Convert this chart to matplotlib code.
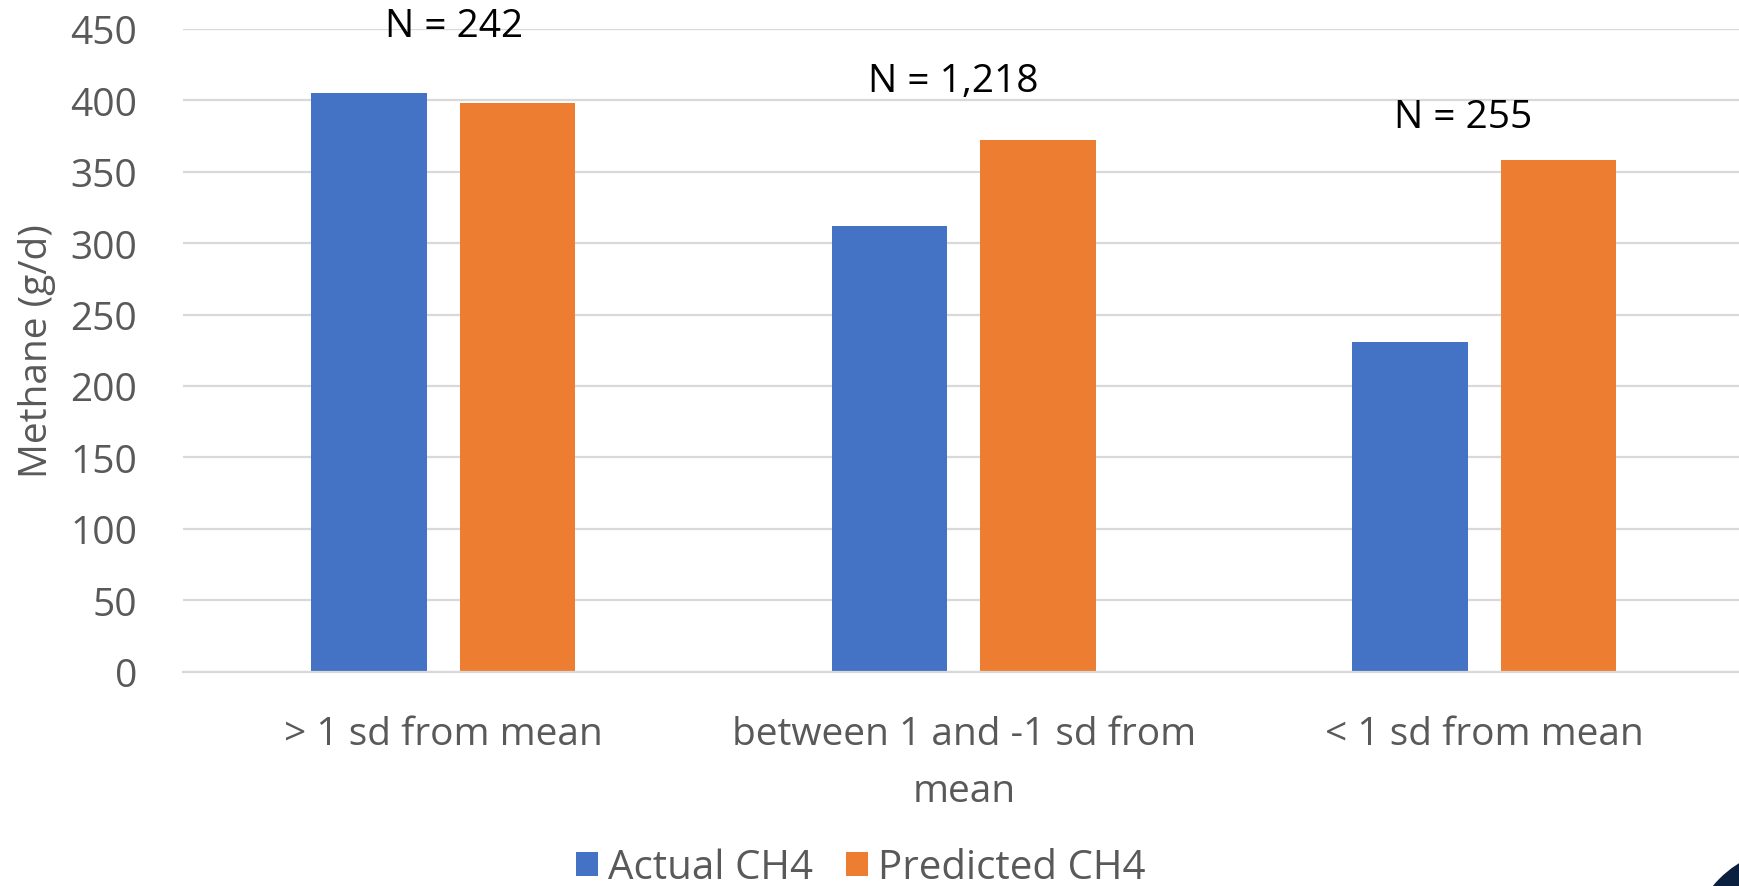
import matplotlib
matplotlib.use("Agg")
import matplotlib.pyplot as plt
from matplotlib.patches import Circle
import numpy as np

# Data
categories = ["> 1 sd from mean", "between 1 and -1 sd from\nmean", "< 1 sd from mean"]
series_names = ["Actual CH4", "Predicted CH4"]
actual_ch4 = [405, 312, 231]
predicted_ch4 = [398, 372, 358]
group_n = ["N = 242", "N = 1,218", "N = 255"]
yticks = [0, 50, 100, 150, 200, 250, 300, 350, 400, 450]

BLUE = "#4472C4"
ORANGE = "#ED7D31"
GRID = "#D9D9D9"
TEXT_GREY = "#595959"
FS = 28

plt.rcParams["font.family"] = ["Open Sans", "DejaVu Sans"]

fig = plt.figure(figsize=(17.4, 8.87), dpi=100)
ax = fig.add_axes([0.1052, 0.2418, 0.8973, 0.7244])

x = np.arange(len(categories))
width = 0.222
offset = 0.1425
ax.bar(x - offset, actual_ch4, width, color=BLUE, label=series_names[0], zorder=2)
ax.bar(x + offset, predicted_ch4, width, color=ORANGE, label=series_names[1], zorder=2)

ax.set_xlim(-0.5, 2.5)
ax.set_ylim(0, 450)
ax.set_yticks(yticks)
ax.set_xticks(x)
ax.set_xticklabels(categories, linespacing=1.66)

ax.yaxis.grid(True, color=GRID, linewidth=1.6, zorder=0)
ax.set_axisbelow(True)
for side in ["top", "right", "left"]:
    ax.spines[side].set_visible(False)
ax.spines["bottom"].set_color(GRID)
ax.spines["bottom"].set_linewidth(1.6)
ax.tick_params(axis="both", length=0, labelsize=FS, colors=TEXT_GREY)
ax.tick_params(axis="y", pad=33)
ax.tick_params(axis="x", pad=31)

ax.set_ylabel("Methane (g/d)", fontsize=FS, color=TEXT_GREY, labelpad=10)

# Sample-size notes above each group
n_pos = [(0.02, 452), (0.98, 413.5), (1.96, 388.5)]
for (px, py), txt in zip(n_pos, group_n):
    ax.text(px, py, txt, ha="center", va="center", fontsize=FS,
            color="black", clip_on=False)

leg = ax.legend(loc="center", bbox_to_anchor=(0.434, -0.306), ncol=2, frameon=False,
                fontsize=29, handlelength=0.55, handleheight=0.55,
                handletextpad=0.25, columnspacing=0.8, labelcolor=TEXT_GREY,
                borderpad=0, borderaxespad=0)

# Dark corner shape at the bottom right
corner = Circle((1795, -68), 106, transform=None, color="#0B1F3F", zorder=10)
fig.patches.append(corner)

fig.savefig("out.png", dpi=100)
